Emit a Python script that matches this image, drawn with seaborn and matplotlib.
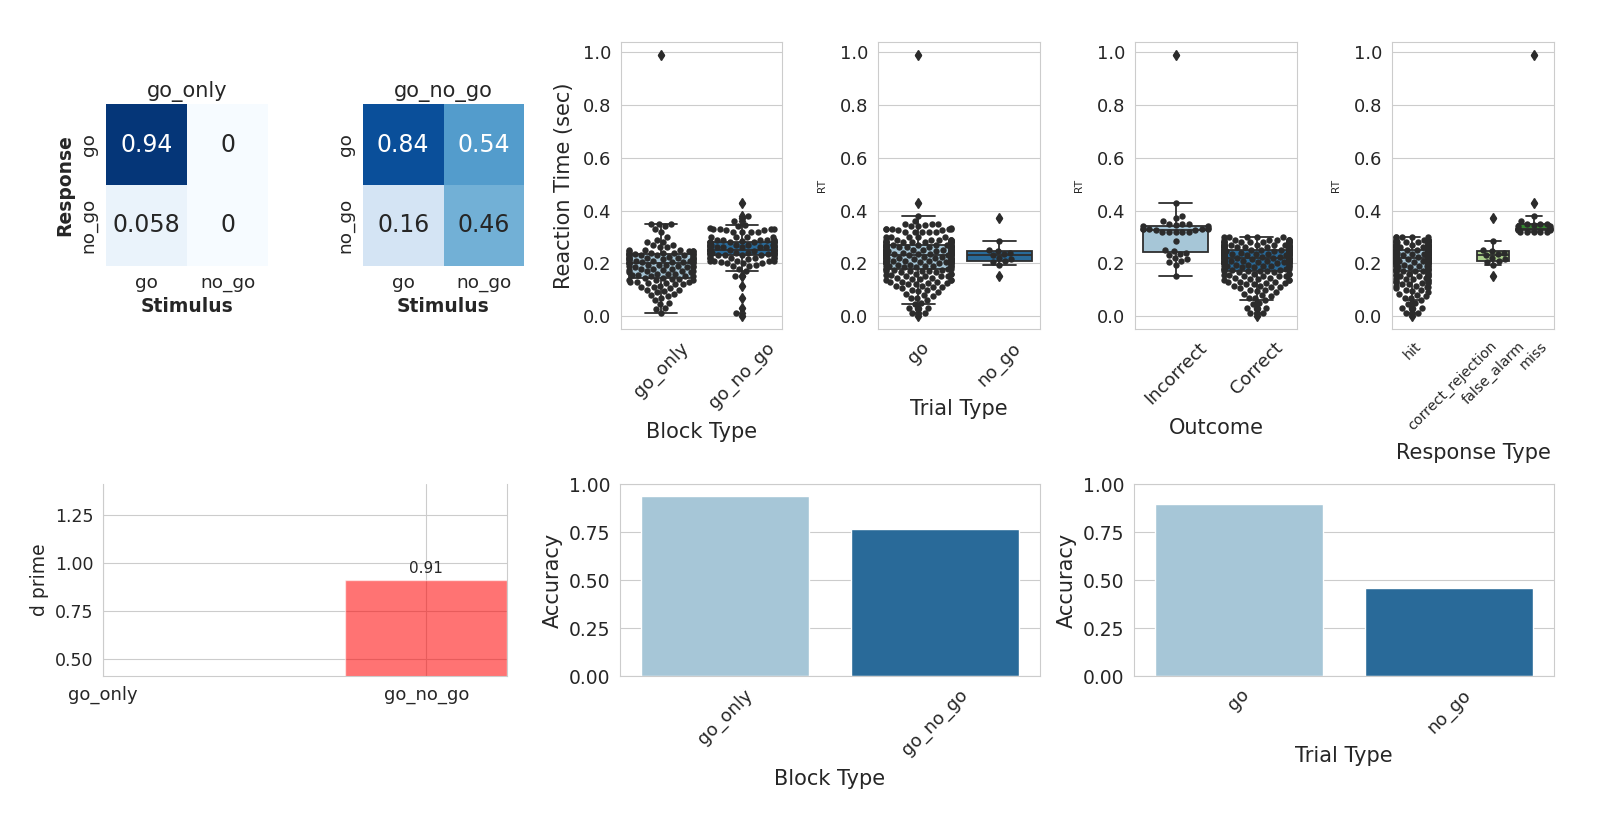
import numpy as np
import pandas as pd
import matplotlib
matplotlib.use("Agg")
import matplotlib.pyplot as plt
from matplotlib.colors import ListedColormap
from matplotlib.ticker import MultipleLocator
import seaborn as sns

# ---------------- data ----------------
resp_labels = ["go", "no_go"]
stim_labels = ["go", "no_go"]
conf_go_only = [[0.94, 0.0], [0.058, 0.0]]
conf_go_no_go = [[0.84, 0.54], [0.16, 0.46]]

block_types = ["go_only", "go_no_go"]
trial_types = ["go", "no_go"]
outcomes = ["Incorrect", "Correct"]
response_types = ["hit", "correct_rejection", "false_alarm", "miss"]

d_prime_blocks = ["go_only", "go_no_go"]
d_prime_values = [np.nan, 0.91]

acc_block = [0.935, 0.764]
acc_trial = [0.896, 0.457]

go_only_hit_rt = [
    0.010, 0.025, 0.030, 0.045, 0.050, 0.060, 0.070, 0.075, 0.080, 0.085,
    0.090, 0.095, 0.100, 0.100, 0.105, 0.110, 0.110, 0.115, 0.120, 0.120,
    0.125, 0.125, 0.130, 0.130, 0.130, 0.135, 0.135, 0.135,
    0.140, 0.140, 0.145, 0.145, 0.150, 0.150, 0.150, 0.155, 0.155, 0.160,
    0.160, 0.160, 0.165, 0.165, 0.170, 0.170, 0.170, 0.175, 0.175, 0.180,
    0.180, 0.180, 0.185, 0.185, 0.185, 0.190, 0.190, 0.190,
    0.195, 0.195, 0.195, 0.200, 0.200, 0.200, 0.200, 0.205, 0.205, 0.205,
    0.205, 0.210, 0.210, 0.210, 0.210, 0.210, 0.215, 0.215, 0.215, 0.215,
    0.215, 0.220, 0.220, 0.220, 0.220, 0.225, 0.225, 0.225,
    0.230, 0.230, 0.230, 0.230, 0.230, 0.235, 0.235, 0.235, 0.235, 0.240,
    0.240, 0.240, 0.240, 0.240, 0.245, 0.245, 0.245, 0.245, 0.250, 0.250,
    0.250, 0.260, 0.260, 0.270, 0.270, 0.280, 0.280, 0.290, 0.300,
]
go_only_miss_rt = [0.320, 0.330, 0.340, 0.350, 0.350, 0.350, 0.990]
go_no_go_hit_rt = [
    0.000, 0.010, 0.030, 0.070, 0.115, 0.150, 0.170, 0.180, 0.190, 0.190,
    0.200, 0.200, 0.200, 0.210, 0.210, 0.210, 0.210, 0.220, 0.220, 0.220,
    0.220, 0.220, 0.230, 0.230, 0.230, 0.230, 0.230, 0.230, 0.240, 0.240,
    0.240, 0.240, 0.240, 0.240, 0.240, 0.240, 0.245, 0.250, 0.250, 0.250,
    0.250, 0.250, 0.250, 0.250, 0.250, 0.250, 0.250, 0.260, 0.260, 0.260,
    0.260, 0.260, 0.260, 0.260, 0.260, 0.260, 0.260, 0.270, 0.270, 0.270,
    0.270, 0.270, 0.270, 0.270, 0.270, 0.270, 0.280, 0.280, 0.280, 0.280,
    0.280, 0.280, 0.280, 0.280, 0.290, 0.290, 0.290, 0.290, 0.290, 0.290,
    0.300, 0.300, 0.300, 0.300,
]
go_no_go_miss_rt = [0.320, 0.320, 0.320, 0.320, 0.325, 0.325, 0.330, 0.330,
                    0.330, 0.330, 0.335, 0.340, 0.345, 0.360, 0.380, 0.430]
go_no_go_fa_rt = [0.150, 0.195, 0.205, 0.210, 0.215, 0.220, 0.230, 0.235,
                  0.240, 0.245, 0.250, 0.285, 0.370]

# ---------------- tidy table ----------------
groups = [
    ("go_only", "hit", go_only_hit_rt),
    ("go_only", "miss", go_only_miss_rt),
    ("go_no_go", "hit", go_no_go_hit_rt),
    ("go_no_go", "miss", go_no_go_miss_rt),
    ("go_no_go", "false_alarm", go_no_go_fa_rt),
]
trial_of = {"hit": "go", "miss": "go", "false_alarm": "no_go", "correct_rejection": "no_go"}
outcome_of = {"hit": "Correct", "correct_rejection": "Correct", "miss": "Incorrect", "false_alarm": "Incorrect"}
rows = []
for blk, rtype, vals in groups:
    for v in vals:
        rows.append({"block": blk, "response_type": rtype, "trial_type": trial_of[rtype],
                     "outcome": outcome_of[rtype], "RT": v})
df = pd.DataFrame(rows)

# ---------------- style ----------------
sns.set_style("whitegrid")
plt.rcParams["font.family"] = ["DejaVu Sans"]
plt.rcParams["xtick.labelsize"] = 13
plt.rcParams["ytick.labelsize"] = 13
plt.rcParams["axes.labelsize"] = 15

GAMMA = 1.12


def tone(colors):
    return [tuple(float(c) ** GAMMA for c in col[:3]) for col in colors]


base_blues = plt.get_cmap("Blues")
blues = ListedColormap(np.array(tone(base_blues(np.linspace(0, 1, 256)))))

W, H = 1600, 832
fig = plt.figure(figsize=(16, 8.32), dpi=100)


def add_ax(x0, y0, x1, y1):
    return fig.add_axes([x0 / W, 1 - y1 / H, (x1 - x0) / W, (y1 - y0) / H])


# ---------------- heatmaps ----------------
for (x0, x1), conf, title, ylab in [((106, 268), conf_go_only, "go_only", "Response"),
                                    ((363, 524), conf_go_no_go, "go_no_go", "")]:
    ax = add_ax(x0, 104, x1, 266)
    mat = pd.DataFrame(conf, index=resp_labels, columns=stim_labels)
    sns.heatmap(mat, ax=ax, cmap=blues, vmin=0, vmax=1, annot=True, cbar=False,
                annot_kws={"size": 17})
    # text colour chosen from the standard Blues luminance
    for txt, v in zip(ax.texts, np.array(conf).ravel()):
        lum = sns.utils.relative_luminance(base_blues(v))
        txt.set_color(".15" if lum > .408 else "w")
    ax.set_title(title, fontsize=15, pad=5)
    ax.set_xlabel("Stimulus", fontweight="bold", fontsize=13.5, labelpad=3)
    ax.set_ylabel(ylab, fontweight="bold", fontsize=13.5)
    ax.tick_params(labelsize=13.3, length=2.5)

# ---------------- box + swarm plots ----------------
box_specs = [
    ((621, 782), "block", block_types, "Reaction Time (sec)", 15, 6, "Block Type", 13, 7),
    ((878, 1040), "trial_type", trial_types, "RT", 7.7, 9, "Trial Type", 13, 7),
    ((1135, 1297), "outcome", outcomes, "RT", 7.7, 9, "Outcome", 13, 7),
    ((1392, 1554), "response_type", response_types, "RT", 7.7, 9, "Response Type", 10.3, 7),
]
for (x0, x1), col, order, ylab, ylsize, ylpad, xlab, xtsize, xlpad in box_specs:
    ax = add_ax(x0, 42, x1, 329)
    pal = tone(sns.color_palette("Paired", len(order), desat=0.75))
    sns.boxplot(data=df, x=col, y="RT", hue=col, order=order, hue_order=order,
                palette=pal, saturation=1, legend=False, ax=ax, linecolor=".18",
                linewidth=1.3, width=0.8,
                flierprops=dict(marker="d", markerfacecolor=".18",
                                markeredgecolor=".18", markersize=5))
    sns.swarmplot(data=df, x=col, y="RT", order=order, color=".17", size=4.6, ax=ax)
    ax.set_ylabel(ylab, fontsize=ylsize, labelpad=ylpad)
    ax.set_xlabel(xlab, fontsize=15, labelpad=xlpad)
    ax.tick_params(axis="x", labelsize=xtsize, rotation=45)
    ax.tick_params(axis="y", labelsize=13)

# ---------------- d prime ----------------
ax = add_ax(103, 484, 507, 676)
xpos = np.arange(len(d_prime_blocks))
vals = np.array(d_prime_values, dtype=float)
ok = np.isfinite(vals)
ax.bar(xpos[ok], vals[ok], width=0.5, color="red", alpha=0.55)
for xp, v in zip(xpos[ok], vals[ok]):
    ax.text(xp, v + 0.02, f"{v:.2f}", ha="center", va="bottom", fontsize=11)
ax.set_xticks(xpos)
ax.set_xticklabels(d_prime_blocks, fontsize=13)
ax.set_xlim(0, 1.25)
ax.set_ylim(np.nanmin(vals) - 0.5, np.nanmax(vals) + 0.5)
ax.yaxis.set_major_locator(MultipleLocator(0.25))
ax.tick_params(axis="y", labelsize=12.5)
ax.set_ylabel("d prime", fontsize=13.5)
ax.spines["top"].set_visible(False)

# ---------------- accuracy bars ----------------
for (x0, x1), cats, accs, xlab in [((620, 1040), block_types, acc_block, "Block Type"),
                                  ((1134, 1554), trial_types, acc_trial, "Trial Type")]:
    ax = add_ax(x0, 484, x1, 676)
    sns.barplot(x=cats, y=accs, hue=cats,
                palette=tone(sns.color_palette("Paired", 2, desat=0.75)),
                saturation=1, legend=False, ax=ax)
    ax.set_ylim(0, 1)
    ax.yaxis.set_major_locator(MultipleLocator(0.25))
    ax.set_ylabel("Accuracy", fontsize=15)
    ax.set_xlabel(xlab, fontsize=15, labelpad=7)
    ax.tick_params(axis="x", labelsize=13, rotation=45)
    ax.tick_params(axis="y", labelsize=13.5)

fig.savefig("out.png", dpi=100)
